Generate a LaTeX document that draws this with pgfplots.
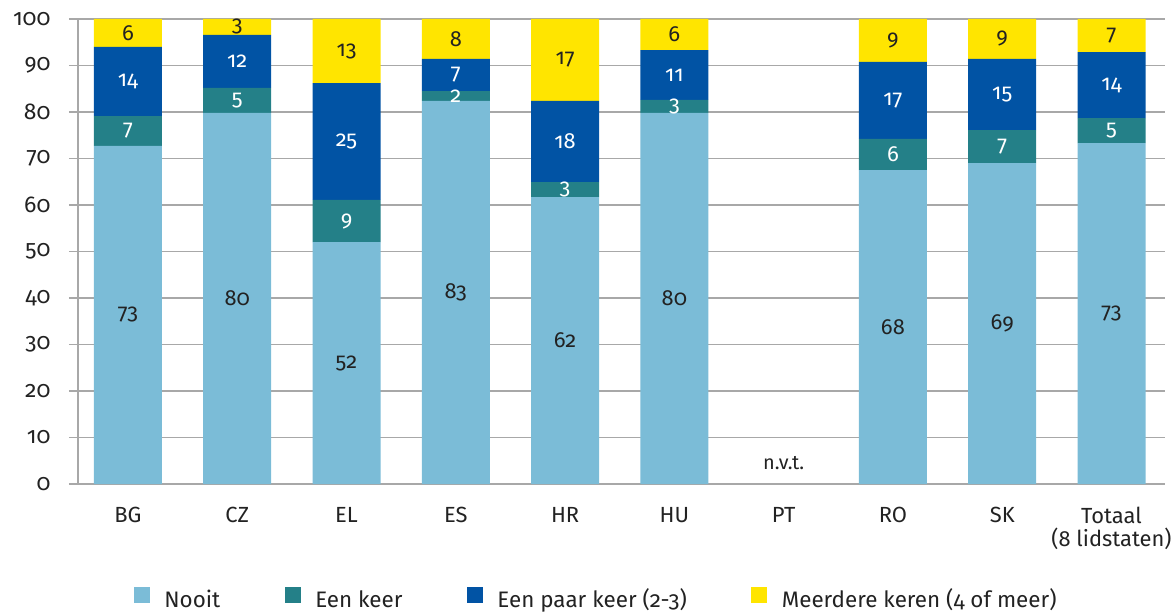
\documentclass[border=0pt]{standalone}
\usepackage{fontspec}
\setmainfont{Fira Sans}[Numbers=OldStyle]
\usepackage{pgfplots}
\pgfplotsset{compat=1.18}
\usepackage{pgfplotstable}
\definecolor{cNooit}{HTML}{7BBCD7}
\definecolor{cEen}{HTML}{248088}
\definecolor{cPaar}{HTML}{0153A4}
\definecolor{cMeer}{HTML}{FFE500}
\definecolor{cGrid}{HTML}{A8A8A8}
\definecolor{cText}{HTML}{222222}

\pgfplotstableread{
x v lab
0 72.7 73
1 79.8 80
2 52.0 52
3 82.4 83
4 61.7 62
5 79.8 80
7 67.5 68
8 69.0 69
9 73.3 73
}\nooit
\pgfplotstableread{
x v lab
0 6.4 7
1 5.4 5
2 9.1 9
3 2.1 2
4 3.2 3
5 2.8 3
7 6.7 6
8 7.1 7
9 5.4 5
}\eenkeer
\pgfplotstableread{
x v lab
0 14.9 14
1 11.4 12
2 25.1 25
3 6.9 7
4 17.5 18
5 10.7 11
7 16.6 17
8 15.3 15
9 14.2 14
}\paarkeer
\pgfplotstableread{
x v lab
0 6.0 6
1 3.4 3
2 13.8 13
3 8.6 8
4 17.6 17
5 6.7 6
7 9.2 9
8 8.6 9
9 7.1 7
}\meerkeer

\begin{document}
\begin{tikzpicture}
\path[use as bounding box] (-78bp,-128bp) rectangle (1093bp,484bp);
\begin{axis}[
  at={(0,0)}, anchor=south west,
  scale only axis, width=1087bp, height=465bp,
  ybar stacked, bar width=68bp,
  xmin=-0.457, xmax=9.49, ymin=0, ymax=100,
  xtick={0,...,9},
  xticklabels={BG,CZ,EL,ES,HR,HU,PT,RO,SK,{Totaal\\(8 lidstaten)}},
  xticklabel style={align=center, font=\fontsize{22}{23}\selectfont, text=cText, yshift=-11bp},
  x tick style={draw=none},
  ytick={0,10,...,100},
  yticklabel style={font=\fontsize{23}{24}\selectfont, text=cText, xshift=-15bp},
  /pgf/number format/assume math mode=true,
  ymajorgrids, grid style={cGrid, line width=1.4bp},
  axis lines*=left,
  axis line style={cGrid, line width=1.4bp},
  y tick style={cGrid, line width=1.4bp},
  tick align=outside, major tick length=9bp,
  point meta=explicit symbolic,
  nodes near coords,
  every node near coord/.append style={anchor=center, font=\fontsize{22}{23}\selectfont},
  every axis plot post/.append style={legend image code/.code={\fill[##1] (0bp,-1bp) rectangle (16bp,15bp);}},
  legend columns=-1,
  legend style={at={(0.4765,-0.25)}, anchor=center, draw=none, font=\fontsize{22.5}{24}\selectfont, text=cText,
    nodes={text height=16bp, text depth=5bp, inner sep=1.5bp},
    /tikz/every even column/.append style={column sep=63bp},
    /tikz/every odd column/.append style={column sep=13bp}},
]
\addplot[fill=cNooit, draw=none, every node near coord/.append style={text=cText}] table[x=x,y=v,meta=lab] {\nooit};
\addplot[fill=cEen, draw=none, every node near coord/.append style={text=white}] table[x=x,y=v,meta=lab] {\eenkeer};
\addplot[fill=cPaar, draw=none, every node near coord/.append style={text=white}] table[x=x,y=v,meta=lab] {\paarkeer};
\addplot[fill=cMeer, draw=none, every node near coord/.append style={text=cText}] table[x=x,y=v,meta=lab] {\meerkeer};
\legend{Nooit, Een keer, Een paar keer (2-3), Meerdere keren (4 of meer)}
\node[font=\fontsize{20}{21}\selectfont, text=cText] at (axis cs:6,4.4) {n.v.t.};
\end{axis}
\end{tikzpicture}
\end{document}
